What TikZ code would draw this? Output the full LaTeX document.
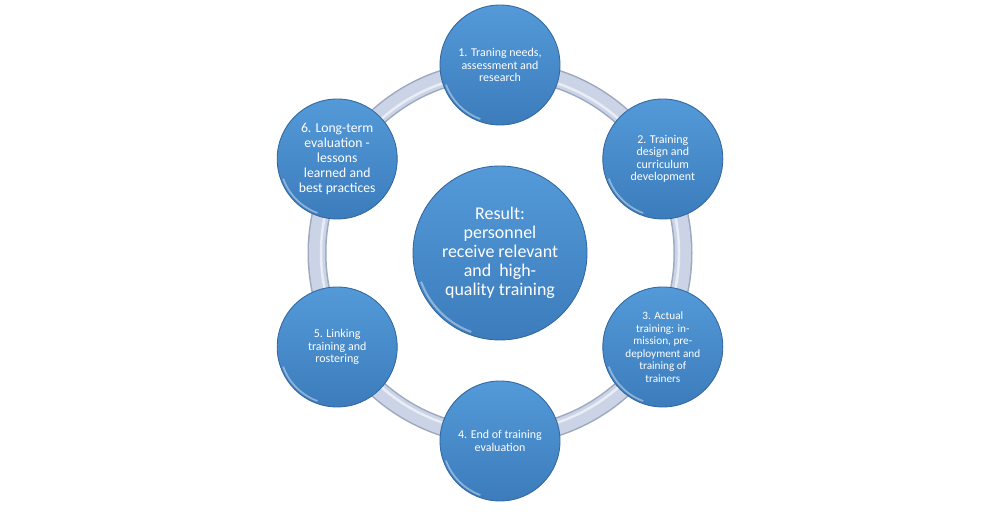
\documentclass[tikz,border=0pt]{standalone}
\usepackage{fontspec}
\setmainfont{Carlito}
\usetikzlibrary{positioning, calc}
\definecolor{balltop}{RGB}{84,154,216}
\definecolor{ballbottom}{RGB}{60,124,188}
\definecolor{balledge}{RGB}{52,104,160}
\definecolor{ringcolor}{RGB}{202,212,230}
\definecolor{ringedge}{RGB}{158,168,190}

\begin{document}
\begin{tikzpicture}[
    stage/.style={circle, minimum size=2.4cm, inner sep=0pt, top color=balltop, bottom color=ballbottom, draw=balledge, line width=0.5pt, text=white, align=center, font=\fontsize{6.8}{7}\selectfont,
        path picture={\draw[white, opacity=0.4, line width=1pt] (path picture bounding box.center) ++(200:1.15cm) arc (200:250:1.15cm);}},
    result/.style={stage, minimum size=3.48cm, font=\fontsize{10.2}{10.8}\selectfont,
        path picture={\draw[white, opacity=0.4, line width=1.2pt] (path picture bounding box.center) ++(200:1.68cm) arc (200:250:1.68cm);}},
    ring/.style={line width=#1}
]
    \fill[white] (0,0) rectangle (20,10.28);
    \useasboundingbox (0,0) rectangle (20,10.28);

    % Ring behind the stages
    \coordinate (hub) at (10,5.22);
    \draw[ring=0.38cm, ringedge] (hub) circle (3.66cm);
    \draw[ring=0.32cm, ringcolor] (hub) circle (3.66cm);
    \draw[ring=0.05cm, white, opacity=0.6] (hub) circle (3.58cm);

    \node[result] (res) at (hub) {Result:\\personnel\\receive relevant\\and\ \ high-\\quality training};

    \node[stage] (n1) at ($(hub)+(90:3.76)$) {1. Traning needs,\\assessment and\\research};
    \node[stage] (n2) at ($(hub)+(30:3.76)$) {2. Training\\design and\\curriculum\\development};
    \node[stage, font=\fontsize{6.4}{7.1}\selectfont] (n3) at ($(hub)+(-30:3.76)$) {3. Actual\\training: in-\\mission, pre-\\deployment and\\training of\\trainers};
    \node[stage] (n4) at ($(hub)+(-90:3.76)$) {4. End of training\\evaluation};
    \node[stage] (n5) at ($(hub)+(-150:3.76)$) {5. Linking\\training and\\rostering};
    \node[stage, font=\fontsize{7.8}{8.4}\selectfont] (n6) at ($(hub)+(150:3.76)$) {6. Long-term\\evaluation -\\lessons\\learned and\\best practices};
\end{tikzpicture}
\end{document}
